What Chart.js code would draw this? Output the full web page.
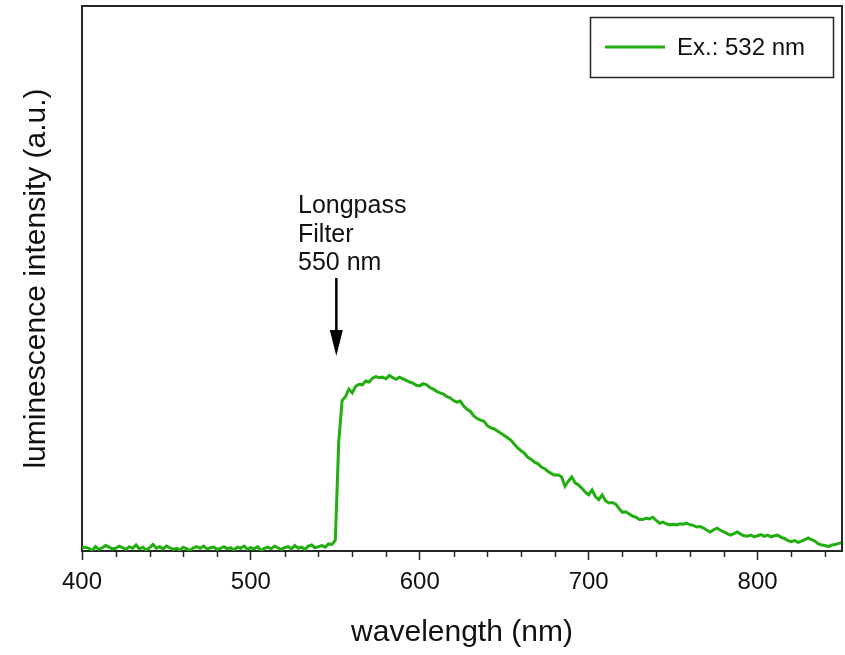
<!DOCTYPE html>
<html>
<head>
<meta charset="utf-8">
<script src="https://cdn.jsdelivr.net/npm/chart.js@4.4.1/dist/chart.umd.min.js"></script>
<style>
  html, body { margin: 0; padding: 0; background: #fff; }
  #wrap { width: 845px; height: 655px; }
</style>
</head>
<body>
<div id="wrap"><canvas id="myChart" width="845" height="655"></canvas></div>
<script>
// wavelength (nm)
const wavelengths = [
  400,402,404,406,408,410,412,414,416,418,420,422,424,426,428,430,432,434,436,438,
  440,442,444,446,448,450,452,454,456,458,460,462,464,466,468,470,472,474,476,478,
  480,482,484,486,488,490,492,494,496,498,500,502,504,506,508,510,512,514,516,518,
  520,522,524,526,528,530,532,534,536,538,540,542,544,546,548,550,552,554,556,558,
  560,562,564,566,568,570,572,574,576,578,580,582,584,586,588,590,592,594,596,598,
  600,602,604,606,608,610,612,614,616,618,620,622,624,626,628,630,632,634,636,638,
  640,642,644,646,648,650,652,654,656,658,660,662,664,666,668,670,672,674,676,678,
  680,682,684,686,688,690,692,694,696,698,700,702,704,706,708,710,712,714,716,718,
  720,722,724,726,728,730,732,734,736,738,740,742,744,746,748,750,752,754,756,758,
  760,762,764,766,768,770,772,774,776,778,780,782,784,786,788,790,792,794,796,798,
  800,802,804,806,808,810,812,814,816,818,820,822,824,826,828,830,832,834,836,838,
  840,842,844,846,848,850
];

// luminescence intensity (a.u.), excitation 532 nm
const intensity = [
  0.6,0.7,0.5,0.1,0.8,0.3,0.6,1.0,0.7,0.4,
  0.5,0.9,0.6,0.3,0.8,0.5,1.1,0.4,0.7,0.2,
  0.6,1.2,0.5,0.8,0.4,0.9,0.6,0.3,0.5,0.2,
  0.7,0.4,0.1,0.6,0.8,0.5,0.9,0.4,0.6,0.7,
  0.3,0.5,0.8,0.4,0.6,0.2,0.7,0.5,0.9,0.3,
  0.6,0.4,0.8,0.1,0.5,0.7,0.4,0.9,0.6,0.3,
  0.6,0.8,0.4,1.0,0.5,0.7,0.3,0.9,1.1,0.6,
  0.8,1.0,0.7,1.3,1.2,
  2.0,20.0,27.6,28.3,29.7,29.0,30.2,30.6,30.5,31.2,
  31.0,31.7,32.0,31.8,31.9,31.6,32.2,31.8,31.5,31.9,
  31.6,31.3,31.0,30.8,30.4,30.3,30.7,30.5,30.0,29.7,
  29.3,29.0,28.8,28.3,28.1,27.6,27.3,27.5,26.6,26.0,
  25.6,24.8,24.3,24.0,23.8,23.0,22.6,22.4,22.0,21.6,
  21.2,20.8,20.3,19.6,18.9,18.4,17.9,17.2,16.8,16.3,
  16.0,15.4,15.1,14.6,14.2,13.9,14.0,13.6,11.9,12.8,
  13.6,12.5,12.1,11.5,10.8,10.3,11.2,10.0,9.4,10.3,
  9.2,8.8,8.9,8.6,7.8,7.1,7.2,6.8,6.4,6.2,
  5.8,5.8,6.0,5.9,6.2,5.6,5.1,5.3,5.0,4.8,
  4.9,4.8,5.0,4.9,5.1,4.8,4.7,4.4,4.5,4.2,
  3.8,3.5,3.9,4.2,3.8,3.5,3.2,2.9,3.2,3.5,
  3.1,2.8,2.7,2.9,2.6,2.8,3.0,2.7,2.9,2.6,
  2.8,2.9,2.5,2.3,1.9,1.7,1.9,1.6,1.8,2.1,
  2.4,2.1,1.8,1.3,1.1,1.0,0.8,1.1,1.2,1.4,
  1.5
];

const xMajorTicks = [400, 500, 600, 700, 800];
const seriesLabel = "Ex.: 532 nm";
const filterLines = ["Longpass", "Filter", "550 nm"];
const filterWavelength = 550;

const FONT = "'Liberation Sans', Arial, sans-serif";
const AXIS_COLOR = "#262626";
const GREEN = "#22ae10";

// box frame, minor ticks, legend box and the filter arrow
const decorations = {
  id: "decorations",
  afterDraw(c) {
    const ctx = c.ctx;
    const a = c.chartArea;
    const xs = c.scales.x;
    ctx.save();

    // top and right frame
    ctx.strokeStyle = AXIS_COLOR;
    ctx.lineWidth = 2;
    ctx.beginPath();
    ctx.moveTo(a.left, a.top);
    ctx.lineTo(a.right, a.top);
    ctx.lineTo(a.right, a.bottom);
    ctx.stroke();

    // minor ticks every 20 nm
    ctx.lineWidth = 1.5;
    for (let v = xs.min; v <= xs.max; v += 20) {
      if (v % 100 === 0) continue;
      const px = Math.round(xs.getPixelForValue(v)) + 0.5;
      ctx.beginPath();
      ctx.moveTo(px, a.bottom);
      ctx.lineTo(px, a.bottom + 6);
      ctx.stroke();
    }

    // legend box
    ctx.lineWidth = 1.5;
    ctx.strokeRect(590.5, 17.5, 243, 60);
    ctx.strokeStyle = GREEN;
    ctx.lineWidth = 3;
    ctx.beginPath();
    ctx.moveTo(605, 47);
    ctx.lineTo(665, 47);
    ctx.stroke();
    ctx.fillStyle = "#111";
    ctx.font = "24px " + FONT;
    ctx.textBaseline = "middle";
    ctx.textAlign = "left";
    ctx.fillText(seriesLabel, 677, 48);

    // annotation text
    ctx.font = "25px " + FONT;
    ctx.textBaseline = "alphabetic";
    filterLines.forEach((t, i) => ctx.fillText(t, 298, 213 + i * 28.7));

    // arrow at the filter edge
    const ax = xs.getPixelForValue(filterWavelength) + 1;
    ctx.strokeStyle = "#000";
    ctx.fillStyle = "#000";
    ctx.lineWidth = 2.5;
    ctx.beginPath();
    ctx.moveTo(ax, 278);
    ctx.lineTo(ax, 334);
    ctx.stroke();
    ctx.beginPath();
    ctx.moveTo(ax - 6.5, 330);
    ctx.lineTo(ax + 6.5, 330);
    ctx.lineTo(ax, 356);
    ctx.closePath();
    ctx.fill();

    ctx.restore();
  }
};

new Chart(document.getElementById("myChart"), {
  type: "line",
  data: {
    datasets: [{
      label: seriesLabel,
      data: wavelengths.map((w, i) => ({ x: w, y: intensity[i] })),
      borderColor: GREEN,
      borderWidth: 3,
      pointRadius: 0,
      fill: false,
      tension: 0
    }]
  },
  options: {
    responsive: false,
    animation: false,
    layout: { padding: { top: 6, right: 3, left: 0, bottom: 0 } },
    plugins: {
      legend: { display: false },
      tooltip: { enabled: false }
    },
    scales: {
      x: {
        type: "linear",
        min: 400,
        max: 850,
        afterFit(s) {
          s.height = 104;
          s.paddingLeft = 0;
          s.paddingRight = 0;
        },
        border: { display: true, color: AXIS_COLOR, width: 2 },
        grid: {
          drawOnChartArea: false,
          drawTicks: true,
          tickLength: 9,
          tickWidth: 1.5,
          tickColor: (ctx) => (xMajorTicks.includes(ctx.tick && ctx.tick.value) ? AXIS_COLOR : "rgba(0,0,0,0)")
        },
        ticks: {
          stepSize: 20,
          autoSkip: false,
          maxRotation: 0,
          padding: 8,
          color: "#111",
          font: { family: FONT, size: 24 },
          callback: (v) => (xMajorTicks.includes(v) ? String(v) : "")
        },
        title: {
          display: true,
          text: "wavelength (nm)",
          color: "#111",
          font: { family: FONT, size: 30 },
          padding: { top: 4, bottom: 4 }
        }
      },
      y: {
        min: 0,
        max: 100,
        afterFit(s) { s.width = 82; },
        border: { display: true, color: AXIS_COLOR, width: 2 },
        grid: { display: false },
        ticks: { display: false },
        title: {
          display: true,
          text: "luminescence intensity (a.u.)",
          color: "#111",
          font: { family: FONT, size: 30 },
          padding: { top: 19, bottom: 19 }
        }
      }
    }
  },
  plugins: [decorations]
});
</script>
</body>
</html>
